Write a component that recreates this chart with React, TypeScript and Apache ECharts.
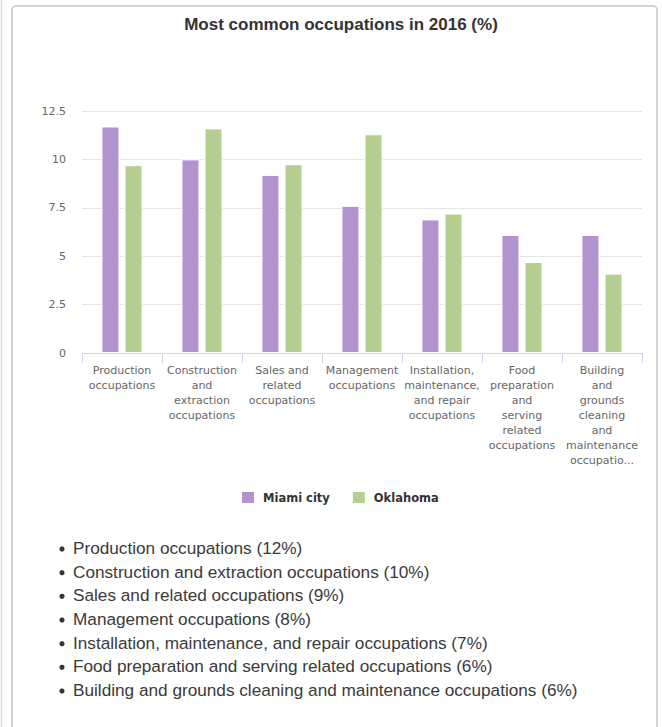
import React, { useEffect, useRef } from "react";
import * as echarts from "echarts";

const categories = [
  "Production occupations",
  "Construction and extraction occupations",
  "Sales and related occupations",
  "Management occupations",
  "Installation, maintenance, and repair occupations",
  "Food preparation and serving related occupations",
  "Building and grounds cleaning and maintenance occupations",
];

const tickLabels = [
  "Production\noccupations",
  "Construction\nand\nextraction\noccupations",
  "Sales and\nrelated\noccupations",
  "Management\noccupations",
  "Installation,\nmaintenance,\nand repair\noccupations",
  "Food\npreparation\nand\nserving\nrelated\noccupations",
  "Building\nand\ngrounds\ncleaning\nand\nmaintenance\noccupatio...",
];

const miamiValues = [11.7, 10.0, 9.2, 7.6, 6.9, 6.1, 6.1];
const oklahomaValues = [9.7, 11.6, 9.75, 11.3, 7.2, 4.7, 4.1];
const listPercents = [12, 10, 9, 8, 7, 6, 6];
const yTicks = [0, 2.5, 5, 7.5, 10, 12.5];

const PURPLE = "#b093cf";
const GREEN = "#b5cf91";

export default function App() {
  const ref = useRef<HTMLDivElement>(null);
  useEffect(() => {
    if (!ref.current) return;
    const chart = echarts.init(ref.current, undefined, { renderer: "svg" });

    const listGraphics: any[] = [];
    categories.forEach((c, i) => {
      const y = 548 + i * 23.67;
      listGraphics.push({
        type: "circle",
        shape: { cx: 62, cy: y + 1, r: 2.6 },
        style: { fill: "#333" },
        silent: true,
      });
      listGraphics.push({
        type: "text",
        x: 73,
        y: y,
        style: {
          text: `${c} (${listPercents[i]}%)`,
          fontFamily: "Liberation Sans, Arial, sans-serif",
          fontSize: 17.2,
          fill: "#3a3a3a",
          verticalAlign: "middle",
          align: "left",
        },
        silent: true,
      });
    });

    chart.setOption({
      animation: false,
      backgroundColor: "#ffffff",
      legend: {
        left: 240,
        top: 490,
        padding: 0,
        itemWidth: 14,
        itemHeight: 13,
        itemGap: 21,
        icon: "rect",
        textStyle: {
          fontFamily: "DejaVu Sans, Verdana, sans-serif",
          fontSize: 11.5,
          fontWeight: "bold",
          color: "#333333",
          padding: [0, 0, 0, 3],
        },
        data: ["Miami city", "Oklahoma"],
      },
      grid: { left: 82, right: 20, top: 111, bottom: 374, containLabel: false },
      xAxis: {
        type: "category",
        data: categories,
        axisLine: { lineStyle: { color: "#ccd6eb", width: 1 } },
        axisTick: { show: true, length: 10, lineStyle: { color: "#ccd6eb" } },
        axisLabel: {
          interval: 0,
          margin: 10,
          color: "#666666",
          fontFamily: "DejaVu Sans, Verdana, sans-serif",
          fontSize: 11,
          lineHeight: 15,
          formatter: (_v: string, idx: number) => tickLabels[idx],
        },
      },
      yAxis: {
        type: "value",
        min: yTicks[0],
        max: yTicks[yTicks.length - 1],
        interval: 2.5,
        axisLine: { show: false },
        axisTick: { show: false },
        splitLine: { lineStyle: { color: "#e6e6e6", width: 1 } },
        axisLabel: {
          margin: 16,
          color: "#666666",
          fontFamily: "DejaVu Sans, Verdana, sans-serif",
          fontSize: 11,
        },
      },
      series: [
        {
          name: "Miami city",
          type: "bar",
          data: miamiValues,
          barWidth: 18,
          barGap: "28%",
          itemStyle: { color: PURPLE, borderColor: "#ffffff", borderWidth: 1 },
        },
        {
          name: "Oklahoma",
          type: "bar",
          data: oklahomaValues,
          barWidth: 18,
          barGap: "28%",
          itemStyle: { color: GREEN, borderColor: "#ffffff", borderWidth: 1 },
        },
      ],
      graphic: [
        {
          type: "line",
          shape: { x1: 1.5, y1: 0, x2: 1.5, y2: 727 },
          style: { stroke: "#dddddd", lineWidth: 1.5 },
          silent: true,
        },
        {
          type: "rect",
          shape: { x: 12, y: 6, width: 645, height: 740, r: 4 },
          style: { fill: "none", stroke: "#d2d2d2", lineWidth: 2 },
          silent: true,
          z: -1,
        },
        {
          type: "text",
          x: 341,
          y: 24,
          style: {
            text: "Most common occupations in 2016 (%)",
            fontFamily: "Liberation Sans, Arial, sans-serif",
            fontSize: 17,
            fontWeight: "bold",
            fill: "#333333",
            align: "center",
            verticalAlign: "middle",
          },
          silent: true,
        },
        ...listGraphics,
      ],
    });
    return () => chart.dispose();
  }, []);

  return (
    <div
      ref={ref}
      style={{ position: "absolute", left: 0, top: 0, width: 662, height: 727 }}
    />
  );
}
